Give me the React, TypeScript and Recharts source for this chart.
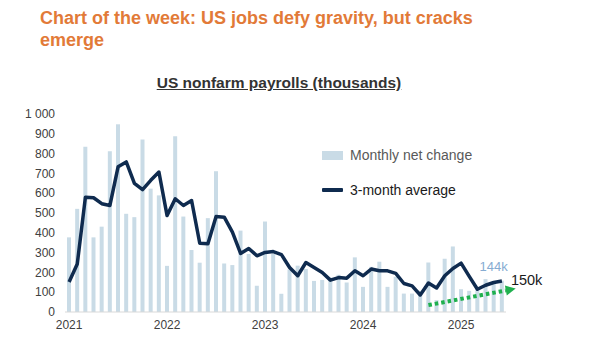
import React from 'react';
import { ComposedChart, Bar, Line, XAxis, YAxis, LabelList, ReferenceLine } from 'recharts';

const months = [
  '2021-01','2021-02','2021-03','2021-04','2021-05','2021-06','2021-07','2021-08','2021-09','2021-10','2021-11','2021-12',
  '2022-01','2022-02','2022-03','2022-04','2022-05','2022-06','2022-07','2022-08','2022-09','2022-10','2022-11','2022-12',
  '2023-01','2023-02','2023-03','2023-04','2023-05','2023-06','2023-07','2023-08','2023-09','2023-10','2023-11','2023-12',
  '2024-01','2024-02','2024-03','2024-04','2024-05','2024-06','2024-07','2024-08','2024-09','2024-10','2024-11','2024-12',
  '2025-01','2025-02','2025-03','2025-04','2025-05','2025-06',
];

const monthlyNetChange = [
  377, 521, 835, 377, 431, 812, 948, 496, 479, 871, 623, 589,
  233, 888, 482, 313, 249, 474, 711, 245, 237, 411, 293, 132,
  457, 293, 92, 215, 234, 217, 157, 162, 174, 188, 149, 276,
  127, 228, 254, 127, 178, 93, 93, 107, 250, 60, 269, 331,
  115, 107, 125, 166, 144, 158,
];

const threeMonthAverage = [
  152, 242, 580, 577, 547, 538, 733, 758, 650, 618, 665, 707,
  487, 572, 538, 563, 347, 345, 482, 479, 403, 296, 321, 284,
  301, 305, 290, 225, 183, 250, 225, 200, 161, 174, 171, 208,
  183, 217, 208, 208, 195, 144, 132, 86, 146, 121, 183, 220,
  247, 180, 115, 135, 149, 157,
];

const yearTicks = ['2021-01', '2022-01', '2023-01', '2024-01', '2025-01'];
const valueTicks = [0, 100, 200, 300, 400, 500, 600, 700, 800, 900, 1000];

const barNote = { month: '2025-05', text: '144k' };
const lineNote = { month: '2025-06', text: '150k' };
const trendFrom = { month: '2024-09', value: 35 };
const trendTo = { month: '2025-06', value: 105 };

const title = 'Chart of the week: US jobs defy gravity, but cracks emerge';
const subtitle = 'US nonfarm payrolls (thousands)';
const barName = 'Monthly net change';
const lineName = '3-month average';

const data = months.map((m, i) => ({ m, net: monthlyNetChange[i], avg: threeMonthAverage[i] }));

const FONT = '"Liberation Sans", Arial, Helvetica, sans-serif';
const BAR_COLOR = '#c9dbe6';
const LINE_COLOR = '#0f2b4f';
const GREEN = '#1fb04e';
const ORANGE = '#e27a38';

const TrendArrow = (props: any) => {
  const { x1, y1, x2, y2 } = props;
  if ([x1, y1, x2, y2].some((v) => typeof v !== 'number' || isNaN(v))) return null;
  const dx = x2 - x1;
  const dy = y2 - y1;
  const len = Math.sqrt(dx * dx + dy * dy) || 1;
  const ux = dx / len;
  const uy = dy / len;
  const ex = x2 + ux * 4;
  const ey = y2 + uy * 4;
  const tx = x2 + ux * 14;
  const ty = y2 + uy * 14;
  const px = -uy;
  const py = ux;
  const w = 5;
  return (
    <g>
      <line x1={x1} y1={y1} x2={ex} y2={ey} stroke={GREEN} strokeWidth={4} strokeDasharray="3.5 3" />
      <polygon
        points={`${ex + px * w},${ey + py * w} ${ex - px * w},${ey - py * w} ${tx},${ty}`}
        fill={GREEN}
      />
    </g>
  );
};

const LegendBlock = () => (
  <div style={{ position: 'absolute', left: 322, top: 145, width: 180, height: 60, fontFamily: FONT, fontSize: 14, color: '#595959' }}>
    <div style={{ position: 'absolute', left: 0, top: 6, width: 21, height: 9, background: BAR_COLOR }} />
    <div style={{ position: 'absolute', left: 28, top: 2, lineHeight: '16px', whiteSpace: 'nowrap' }}>{barName}</div>
    <div style={{ position: 'absolute', left: 0, top: 43, width: 21, height: 4, background: LINE_COLOR, borderRadius: 1 }} />
    <div style={{ position: 'absolute', left: 28, top: 37, lineHeight: '16px', whiteSpace: 'nowrap', color: '#1a1a1a' }}>{lineName}</div>
  </div>
);

const barNoteIndex = months.indexOf(barNote.month);
const lineNoteIndex = months.indexOf(lineNote.month);

const BarNoteLabel = (props: any) => {
  const { x, y, width, index } = props;
  if (index !== barNoteIndex) return null;
  return (
    <text x={x + width / 2} y={y - 16} textAnchor="middle" dominantBaseline="middle" fontSize={13} fill="#86acd2" fontFamily={FONT}>
      {barNote.text}
    </text>
  );
};

const LineNoteLabel = (props: any) => {
  const { x, y, index } = props;
  if (index !== lineNoteIndex) return null;
  return (
    <text x={x + 9} y={y} textAnchor="start" dominantBaseline="middle" fontSize={14.5} fill="#1a1a1a" fontFamily={FONT}>
      {lineNote.text}
    </text>
  );
};

const words = title.split(' ');
const titleLine1 = words.slice(0, -1).join(' ');
const titleLine2 = words[words.length - 1];

export default function App() {
  return (
    <div style={{ position: 'absolute', left: 0, top: 0, width: 600, height: 343, background: '#fff', fontFamily: FONT, overflow: 'hidden' }}>
      <div style={{ position: 'absolute', left: 40, top: 7, fontSize: 18, lineHeight: '22px', fontWeight: 'bold', color: ORANGE, whiteSpace: 'nowrap' }}>
        {titleLine1}
        <br />
        {titleLine2}
      </div>
      <div style={{ position: 'absolute', left: 0, width: 558, top: 74, textAlign: 'center', fontSize: 15.5, lineHeight: '18px', fontWeight: 'bold', color: '#333', textDecoration: 'underline', whiteSpace: 'nowrap' }}>
        {subtitle}
      </div>
      <div style={{ position: 'absolute', left: 0, top: 0 }}>
        <ComposedChart width={600} height={343} data={data} margin={{ top: 114, right: 94, bottom: 1, left: 15 }} barCategoryGap={0}>
          <XAxis
            dataKey="m"
            height={30}
            ticks={yearTicks}
            interval={0}
            tickFormatter={(v: string) => v.slice(0, 4)}
            tickLine={false}
            axisLine={{ stroke: '#d9d9d9' }}
            tick={{ fontSize: 12, fill: '#404040', fontFamily: FONT }}
          />
          <YAxis
            width={50}
            domain={[0, 1000]}
            ticks={valueTicks}
            interval={0}
            tickFormatter={(v: number) => (v >= 1000 ? '1 000' : String(v))}
            tickLine={false}
            axisLine={false}
            tickMargin={4}
            tick={{ fontSize: 12, fill: '#404040', fontFamily: FONT }}
          />
          <Bar dataKey="net" name={barName} fill={BAR_COLOR} barSize={4} isAnimationActive={false}>
            <LabelList dataKey="net" content={<BarNoteLabel />} />
          </Bar>
          <Line
            dataKey="avg"
            name={lineName}
            type="linear"
            stroke={LINE_COLOR}
            strokeWidth={3.5}
            strokeLinejoin="round"
            dot={false}
            isAnimationActive={false}
          >
            <LabelList dataKey="avg" content={<LineNoteLabel />} />
          </Line>
          <ReferenceLine
            segment={[
              { x: trendFrom.month, y: trendFrom.value },
              { x: trendTo.month, y: trendTo.value },
            ]}
            ifOverflow="visible"
            shape={<TrendArrow />}
          />
        </ComposedChart>
      </div>
      <LegendBlock />
    </div>
  );
}
